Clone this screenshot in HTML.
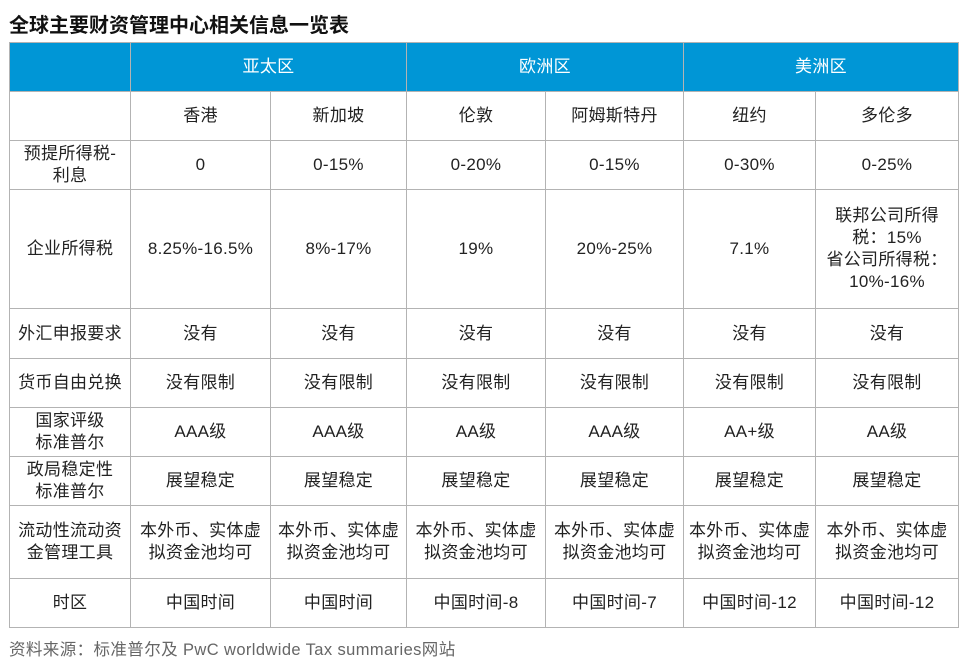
<!DOCTYPE html>
<html><head><meta charset="utf-8"><style>
body{margin:0;width:969px;height:672px;background:#fff;font-family:"Liberation Sans","Noto Sans CJK SC",sans-serif;color:#222;position:relative;overflow:hidden}
.title{position:absolute;left:9px;top:9px;font-size:20px;font-weight:bold;color:#111;white-space:nowrap}
table{position:absolute;left:9px;top:42px;border-collapse:collapse;table-layout:fixed;width:949px}
td{border:1.5px solid #b3b3b3;text-align:center;vertical-align:middle;font-size:17px;line-height:22px;padding:0 2px;letter-spacing:0.3px}
tr.h td{background:#0096d6;color:#fff;height:48px}
.src{position:absolute;left:9px;top:636px;font-size:16.5px;color:#666;white-space:nowrap;letter-spacing:0.4px}
</style></head><body>
<div class="title">全球主要财资管理中心相关信息一览表</div>
<table>
<colgroup><col style="width:121px"><col style="width:140px"><col style="width:136px"><col style="width:139px"><col style="width:138px"><col style="width:132px"><col style="width:143px"></colgroup>
<tr class="h"><td></td><td colspan="2">亚太区</td><td colspan="2">欧洲区</td><td colspan="2">美洲区</td></tr>
<tr style="height:49px"><td></td><td>香港</td><td>新加坡</td><td>伦敦</td><td>阿姆斯特丹</td><td>纽约</td><td>多伦多</td></tr>
<tr style="height:49px"><td>预提所得税-<br>利息</td><td>0</td><td>0-15%</td><td>0-20%</td><td>0-15%</td><td>0-30%</td><td>0-25%</td></tr>
<tr style="height:119px"><td>企业所得税</td><td>8.25%-16.5%</td><td>8%-17%</td><td>19%</td><td>20%-25%</td><td>7.1%</td><td>联邦公司所得<br>税：15%<br>省公司所得税：<br>10%-16%</td></tr>
<tr style="height:50px"><td>外汇申报要求</td><td>没有</td><td>没有</td><td>没有</td><td>没有</td><td>没有</td><td>没有</td></tr>
<tr style="height:49px"><td>货币自由兑换</td><td>没有限制</td><td>没有限制</td><td>没有限制</td><td>没有限制</td><td>没有限制</td><td>没有限制</td></tr>
<tr style="height:49px"><td>国家评级<br>标准普尔</td><td>AAA级</td><td>AAA级</td><td>AA级</td><td>AAA级</td><td>AA+级</td><td>AA级</td></tr>
<tr style="height:49px"><td>政局稳定性<br>标准普尔</td><td>展望稳定</td><td>展望稳定</td><td>展望稳定</td><td>展望稳定</td><td>展望稳定</td><td>展望稳定</td></tr>
<tr style="height:73px"><td>流动性流动资<br>金管理工具</td><td>本外币、实体虚<br>拟资金池均可</td><td>本外币、实体虚<br>拟资金池均可</td><td>本外币、实体虚<br>拟资金池均可</td><td>本外币、实体虚<br>拟资金池均可</td><td>本外币、实体虚<br>拟资金池均可</td><td>本外币、实体虚<br>拟资金池均可</td></tr>
<tr style="height:49px"><td>时区</td><td>中国时间</td><td>中国时间</td><td>中国时间-8</td><td>中国时间-7</td><td>中国时间-12</td><td>中国时间-12</td></tr>
</table>
<div class="src">资料来源：标准普尔及 PwC worldwide Tax summaries网站</div>
</body></html>
